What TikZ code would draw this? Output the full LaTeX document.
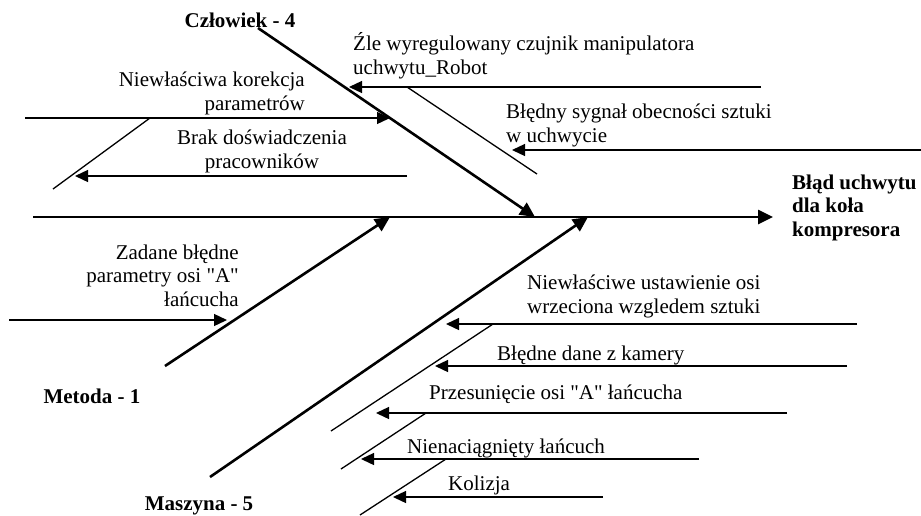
\documentclass[tikz,border=0pt]{standalone}
\usepackage{fontspec}
\setmainfont{Liberation Serif}
\usetikzlibrary{arrows.meta, positioning, calc}
\newcommand{\fishfont}{\fontsize{21}{23.5}\selectfont}
\tikzset{
  bone/.style={line width=2.6pt, -{Triangle[length=15pt, width=14pt]}},
  rib/.style={line width=1.3pt, -{Triangle[length=13pt, width=12pt]}},
  twig/.style={line width=1.3pt},
  cat/.style={font=\fishfont\bfseries, inner sep=0pt},
  cause/.style={font=\fishfont, inner sep=0pt},
}

\begin{document}
\begin{tikzpicture}[x=1pt, y=-1pt]
    \useasboundingbox (0,0) rectangle (921,515);
    % spine
    \coordinate (s0) at (33,217);
    \coordinate (s1) at (773,217);
    \draw[bone] (s0) -- (s1);
    \node[cat, anchor=base west, align=left] (effect) at (792,236) {Błąd uchwytu\\dla koła\\kompresora};
    % main bones
    \foreach \n/\xa/\ya/\xb in {c/258/28/535, m/165/366/390, k/210/477/588} {
      \coordinate (\n0) at (\xa,\ya);
      \coordinate (\n1) at (\xb,217);
      \draw[bone] (\n0) -- (\n1);
    }
    \node[cat, anchor=base] (czlowiek) at (240,27) {Człowiek - 4};
    \node[cat, anchor=base] (metoda) at (92,403) {Metoda - 1};
    \node[cat, anchor=base] (maszyna) at (199,510) {Maszyna - 5};
    % Czlowiek
    \coordinate (r10) at (25,118);   \coordinate (r11) at (390,118);
    \coordinate (g10) at (150,118);  \coordinate (g11) at (53,189);
    \coordinate (r20) at (407,176);  \coordinate (r21) at (75,176);
    \coordinate (r30) at (761,87);   \coordinate (r31) at (349,87);
    \coordinate (g30) at (407,87);   \coordinate (g31) at (537,174);
    \coordinate (r40) at (921,150);  \coordinate (r41) at (512,150);
    \draw[rib] (r10) -- (r11);
    \draw[twig] (g10) -- (g11);
    \draw[rib] (r20) -- (r21);
    \draw[rib] (r30) -- (r31);
    \draw[twig] (g30) -- (g31);
    \draw[rib] (r40) -- (r41);
    \node[cause, anchor=base east, align=right] (korekcja) at (305,110) {Niewłaściwa korekcja\\parametrów};
    \node[cause, anchor=base, align=center] (doswiadczenie) at (262,168) {Brak doświadczenia\\pracowników};
    \node[cause, anchor=base west, align=left] (czujnik) at (353,74) {Źle wyregulowany czujnik manipulatora\\uchwytu\_Robot};
    \node[cause, anchor=base west, align=left] (sygnal) at (506,142) {Błędny sygnał obecności sztuki\\w uchwycie};
    % Metoda
    \coordinate (p0) at (9,320);  \coordinate (p1) at (227,320);
    \draw[rib] (p0) -- (p1);
    \node[cause, anchor=base east, align=right] (zadane) at (239,306) {Zadane błędne\\parametry osi \textquotedbl A\textquotedbl\\łańcucha};
    % Maszyna
    \foreach \n/\xa/\xb/\y in {a/857/446/324, b/847/435/366, c/787/376/413, d/699/361/459, e/603/393/497} {
      \coordinate (q\n0) at (\xa,\y);
      \coordinate (q\n1) at (\xb,\y);
      \draw[rib] (q\n0) -- (q\n1);
    }
    \coordinate (ga0) at (493,324);  \coordinate (ga1) at (331,431);
    \coordinate (gc0) at (426,413);  \coordinate (gc1) at (341,469);
    \coordinate (gd0) at (446,459);  \coordinate (gd1) at (360,515);
    \draw[twig] (ga0) -- (ga1);
    \draw[twig] (gc0) -- (gc1);
    \draw[twig] (gd0) -- (gd1);
    \node[cause, anchor=base west, align=left] (wrzeciono) at (527,313) {Niewłaściwe ustawienie osi\\wrzeciona wzgledem sztuki};
    \node[cause, anchor=base west] (kamera) at (497,360) {Błędne dane z kamery};
    \node[cause, anchor=base west] (przesuniecie) at (429,399) {Przesunięcie osi \textquotedbl A\textquotedbl{} łańcucha};
    \node[cause, anchor=base west] (lancuch) at (407,453) {Nienaciągnięty łańcuch};
    \node[cause, anchor=base west] (kolizja) at (448,490) {Kolizja};
\end{tikzpicture}
\end{document}
